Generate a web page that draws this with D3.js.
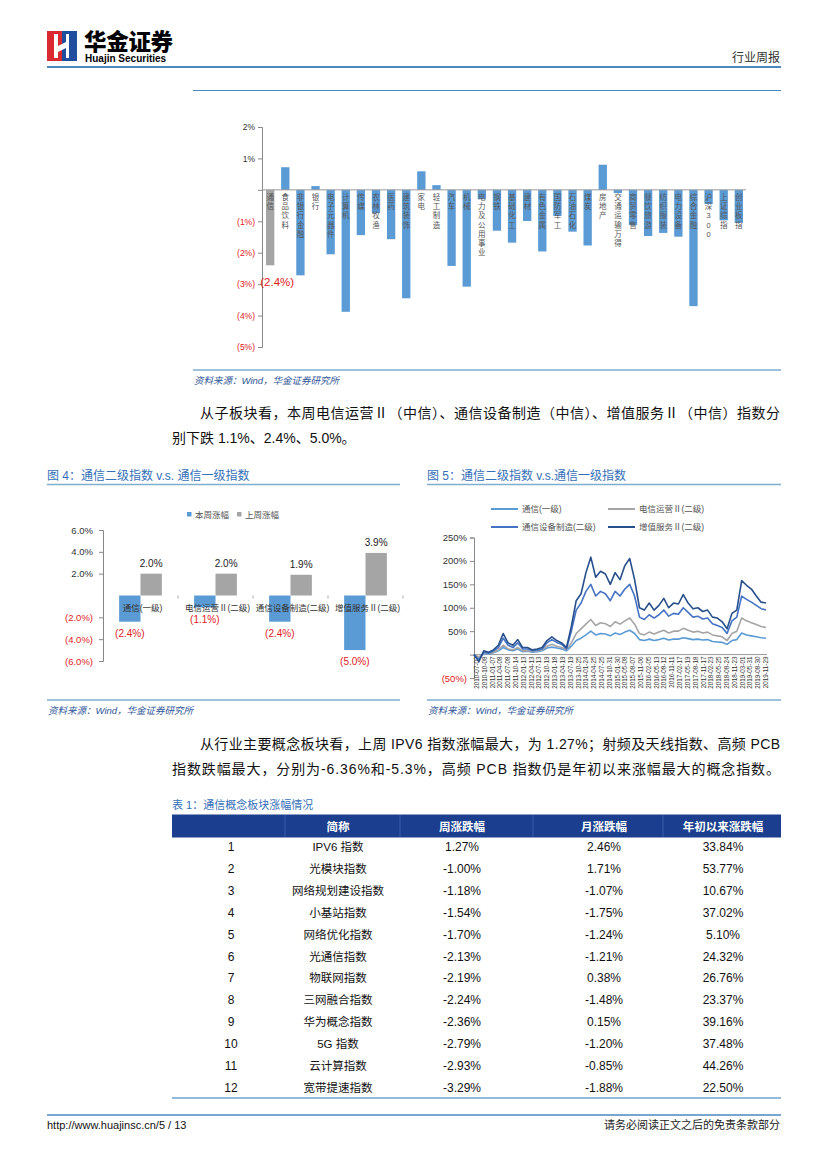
<!DOCTYPE html>
<html><head><meta charset="utf-8">
<script src="https://cdn.jsdelivr.net/npm/d3@7"></script>
<style>
html,body{margin:0;padding:0;background:#fff;}
svg{display:block;}
text{font-family:"Liberation Sans","Noto Sans CJK SC",sans-serif;}
</style></head><body>
<div id="page"></div>
<script>
// ---------- DATA ----------
// Top chart: industry weekly change (%)
const industryNames = ["通信","食品饮料","非银行金融","银行","电子元器件","计算机","传媒","农林牧渔","医药","建筑装饰","家电","轻工制造","汽车","机械","电力及公用事业","钢铁","基础化工","建材","有色金属","国防军工","石油石化","煤炭","房地产","交通运输万得","商贸零售","餐饮旅游","纺织服装","电力设备","综合金融","沪深300","上证综指","创业板指"];
const industryChange = [-2.4,0.72,-2.72,0.12,-2.05,-3.88,-1.44,-0.74,-1.57,-3.45,0.59,0.15,-2.42,-3.08,-0.3,-1.3,-1.68,-0.99,-1.96,-0.83,-1.33,-1.77,0.80,-0.1,-1.12,-1.47,-1.37,-1.49,-3.7,-0.45,-0.97,-1.05];
const topTicks = [2,1,0,-1,-2,-3,-4,-5];

// Figure 4
const fig4Cats = ["通信(一级)","电信运营Ⅱ(二级)","通信设备制造(二级)","增值服务Ⅱ(二级)"];
const fig4Series = ["本周涨幅","上周涨幅"];
const fig4ThisWeek = [-2.4,-1.1,-2.4,-5.0];
const fig4LastWeek = [2.0,2.0,1.9,3.9];
const fig4Ticks = [6,4,2,-2,-4,-6];

// Figure 5 (cumulative %, sampled along the period)
const fig5Names = ["通信(一级)","电信运营Ⅱ(二级)","通信设备制造(二级)","增值服务Ⅱ(二级)"];
const fig5Tx = [0,-8,2,1,4,8,15,10,8,12,6,7,5,6,8,14,16,14,12,8,18,30,35,42,50,42,45,44,40,46,43,48,52,45,32,30,33,30,32,35,31,33,33,36,34,32,33,31,32,28,27,26,22,30,32,46,42,40,38,36,35];
const fig5Dx = [0,-5,3,2,5,10,20,12,10,15,8,8,6,8,10,18,22,18,15,10,25,45,55,65,75,62,68,66,60,70,65,72,78,65,45,42,48,44,48,52,46,50,50,56,52,48,50,46,48,42,40,38,30,45,50,78,72,68,64,60,58];
const fig5Sb = [0,-12,5,3,8,15,35,20,15,25,12,12,8,10,12,25,32,26,22,12,50,95,110,135,150,125,135,130,115,135,125,140,150,125,80,75,85,78,85,95,82,88,86,100,90,80,82,76,78,66,62,58,45,72,80,125,118,112,105,98,95];
const fig5Zz = [0,-15,8,5,10,20,45,25,20,32,15,15,10,12,15,30,38,30,25,15,60,115,130,175,208,165,178,172,150,175,160,190,205,160,100,95,110,95,105,120,100,110,108,128,110,98,100,92,95,80,78,70,55,88,95,158,148,140,125,112,110];
const fig5Dates = ["2010-07-02","2010-10-08","2011-01-07","2011-04-08","2011-07-08","2011-10-14","2012-01-13","2012-04-13","2012-07-13","2012-10-19","2013-01-18","2013-04-19","2013-07-19","2013-10-25","2014-01-24","2014-04-25","2014-07-25","2014-10-31","2015-01-30","2015-05-08","2015-08-07","2015-11-06","2016-02-05","2016-05-13","2016-08-12","2016-11-11","2017-02-17","2017-05-19","2017-08-18","2017-11-17","2018-02-23","2018-05-25","2018-08-24","2018-11-23","2019-03-01","2019-05-31","2019-08-30","2019-11-29"];
const fig5Ticks = [250,200,150,100,50,0,-50];

// Table 1
const tblHeader = ["","简称","周涨跌幅","月涨跌幅","年初以来涨跌幅"];
const tblNames = ["IPV6 指数","光模块指数","网络规划建设指数","小基站指数","网络优化指数","光通信指数","物联网指数","三网融合指数","华为概念指数","5G 指数","云计算指数","宽带提速指数"];
const tblWeek = ["1.27%","-1.00%","-1.18%","-1.54%","-1.70%","-2.13%","-2.19%","-2.24%","-2.36%","-2.79%","-2.93%","-3.29%"];
const tblMonth = ["2.46%","1.71%","-1.07%","-1.75%","-1.24%","-1.21%","0.38%","-1.48%","0.15%","-1.20%","-0.85%","-1.88%"];
const tblYtd = ["33.84%","53.77%","10.67%","37.02%","5.10%","24.32%","26.76%","23.37%","39.16%","37.48%","44.26%","22.50%"];

// ---------- DRAW ----------
const W=827,H=1169;
const svg=d3.select("#page").append("svg").attr("width",W).attr("height",H);
svg.append("rect").attr("width",W).attr("height",H).attr("fill","#fff");
const BLUE_T="#3570B8", RED="#E0201B", BAR="#5B9BD5", GRAY="#A5A5A5";
const cjk="Noto Sans CJK SC, sans-serif";

// Header logo
const lg=svg.append("g");
lg.append("rect").attr("x",47).attr("y",31).attr("width",15).attr("height",30).attr("fill","#D92B2F");
lg.append("rect").attr("x",62).attr("y",31).attr("width",15).attr("height",30).attr("fill","#1F4E9E");
lg.append("path").attr("d","M54,34 L58,34 L58,46 L66,42 L66,34 L69,34 L69,58 L66,58 L66,48 L58,52 L58,58 L54,58 Z").attr("fill","#fff");
svg.append("text").attr("x",84).attr("y",50).attr("font-family",cjk).attr("font-weight","900").attr("font-size",22.5).attr("letter-spacing",-0.3).text("华金证券");
svg.append("text").attr("x",85).attr("y",62).attr("font-weight","bold").attr("font-size",10).attr("font-family","Liberation Sans Narrow, Liberation Sans").text("Huajin Securities");
svg.append("text").attr("x",780).attr("y",62).attr("text-anchor","end").attr("font-family",cjk).attr("font-size",12).attr("fill","#333").text("行业周报");
svg.append("line").attr("x1",47).attr("x2",781).attr("y1",67).attr("y2",67).attr("stroke","#4A8AC0").attr("stroke-width",2);
svg.append("line").attr("x1",193).attr("x2",781).attr("y1",90.5).attr("y2",90.5).attr("stroke","#4A8AC0").attr("stroke-width",1.2);

// ---------- Top chart ----------
const tx=d3.scaleBand().domain(industryNames).range([263,746]).paddingInner(0.45).paddingOuter(0.2);
const ty=d3.scaleLinear().domain([-5,2]).range([347,127]);
const tg=svg.append("g");
tg.selectAll("rect.b").data(industryChange).join("rect")
 .attr("x",(d,i)=>tx(industryNames[i])).attr("width",tx.bandwidth())
 .attr("y",d=>ty(Math.max(0,d))).attr("height",d=>Math.abs(ty(d)-ty(0)))
 .attr("fill",(d,i)=>i===0?GRAY:BAR);
const tAxis=tg.append("g").attr("transform","translate(262,0)").call(d3.axisLeft(ty).tickValues(topTicks).tickSize(4).tickFormat(d=>d===0?"":(d>0?d+"%":"("+(-d)+"%)")));
tAxis.select(".domain").attr("stroke","#888");
tAxis.selectAll(".tick line").attr("stroke","#888");
tAxis.selectAll(".tick text").attr("font-size",8.5).attr("font-family","Liberation Sans").attr("fill",d=>d<0?RED:"#333");
tg.append("line").attr("x1",262).attr("x2",746).attr("y1",ty(0)).attr("y2",ty(0)).attr("stroke","#999");
industryNames.forEach((n,i)=>{
  const cx=tx(n)+tx.bandwidth()/2;
  tg.append("g").selectAll("text").data(Array.from(n)).join("text")
   .attr("x",cx).attr("y",(ch,j)=>200+j*9.2).attr("text-anchor","middle")
   .attr("font-family",cjk).attr("font-size",7.5).attr("fill","#555").text(ch=>ch);
});
tg.append("text").attr("x",tx(industryNames[0])+tx.bandwidth()/2+7).attr("y",ty(industryChange[0])+21).attr("text-anchor","middle").attr("font-size",11.5).attr("fill",RED).text("(2.4%)");

function source(x1,x2,y){
  svg.append("line").attr("x1",x1).attr("x2",x2).attr("y1",y).attr("y2",y).attr("stroke","#7FAECF").attr("stroke-width",1.5);
  svg.append("text").attr("x",x1+1).attr("y",y+14).attr("font-size",9.5).attr("font-style","italic").attr("font-family",cjk).attr("fill","#2F5597").text("资料来源：Wind，华金证券研究所");
}
source(193,781,370);

function para(x,y,str,len){
  const t=svg.append("text").attr("x",x).attr("y",y).attr("font-family",cjk).attr("font-size",14).attr("fill","#111").text(str);
  if(len) t.attr("textLength",len).attr("lengthAdjust","spacing");
}
para(200,418,"从子板块看，本周电信运营Ⅱ（中信）、通信设备制造（中信）、增值服务Ⅱ（中信）指数分",580);
para(172,443,"别下跌 1.1%、2.4%、5.0%。");

function ftitle(x,x2,str){
  svg.append("text").attr("x",x).attr("y",480).attr("font-family",cjk).attr("font-size",12).attr("fill",BLUE_T).text(str);
  svg.append("line").attr("x1",x).attr("x2",x2).attr("y1",484.5).attr("y2",484.5).attr("stroke","#7FAECF").attr("stroke-width",1.5);
}
ftitle(47,400,"图 4：通信二级指数 v.s. 通信一级指数");
ftitle(427,781,"图 5：通信二级指数 v.s.通信一级指数");

// ---------- Figure 4 ----------
const f4=svg.append("g");
const x0=d3.scaleBand().domain(fig4Cats).range([103,403]).paddingInner(0.43).paddingOuter(0.215);
const x1=d3.scaleBand().domain(fig4Series).range([0,x0.bandwidth()]);
const y4=d3.scaleLinear().domain([-6,6]).range([661,530]);
const f4data=fig4Cats.map((c,i)=>({c,vals:[fig4ThisWeek[i],fig4LastWeek[i]]}));
const grp=f4.selectAll("g.c").data(f4data).join("g").attr("transform",d=>`translate(${x0(d.c)},0)`);
grp.selectAll("rect").data(d=>d.vals.map((v,k)=>({s:fig4Series[k],v}))).join("rect")
 .attr("x",d=>x1(d.s)).attr("width",x1.bandwidth())
 .attr("y",d=>y4(Math.max(0,d.v))).attr("height",d=>Math.abs(y4(d.v)-y4(0)))
 .attr("fill",d=>d.s===fig4Series[0]?BAR:GRAY);
grp.selectAll("text.v").data(d=>d.vals.map((v,k)=>({s:fig4Series[k],v}))).join("text")
 .attr("x",d=>x1(d.s)+x1.bandwidth()/2)
 .attr("y",d=>d.v>=0?y4(d.v)-7:y4(d.v)+15)
 .attr("text-anchor","middle").attr("font-size",10)
 .attr("fill",d=>d.v<0?RED:"#222")
 .text(d=>d.v<0?"("+(-d.v).toFixed(1)+"%)":d.v.toFixed(1)+"%");
grp.append("text").attr("x",x0.bandwidth()/2+2).attr("y",611).attr("text-anchor","middle")
 .attr("font-family",cjk).attr("font-size",8.5).attr("fill","#333").text(d=>d.c);
const a4=f4.append("g").attr("transform","translate(103,0)").call(d3.axisLeft(y4).tickValues(fig4Ticks).tickSize(4).tickFormat(d=>d>0?d.toFixed(1)+"%":"("+(-d).toFixed(1)+"%)"));
a4.select(".domain").attr("stroke","#888");
a4.selectAll(".tick line").attr("stroke","#888");
a4.selectAll(".tick text").attr("font-size",9.5).attr("fill",d=>d<0?RED:"#333").attr("dx",-3);
f4.selectAll("line.ct").data(fig4Cats).join("line")
 .attr("x1",d=>x0(d)+x0.step()*(1-0.215)).attr("x2",d=>x0(d)+x0.step()*(1-0.215))
 .attr("y1",y4(0)).attr("y2",y4(0)+3).attr("stroke","#aaa");
const lg4=f4.append("g");
fig4Series.forEach((s,k)=>{
  const lx=187+k*50;
  lg4.append("rect").attr("x",lx).attr("y",512).attr("width",4.5).attr("height",4.5).attr("fill",k===0?BAR:GRAY);
  lg4.append("text").attr("x",lx+8).attr("y",517.5).attr("font-family",cjk).attr("font-size",8.5).attr("fill","#555").text(s);
});

// ---------- Figure 5 ----------
const f5=svg.append("g");
const n5=fig5Zz.length;
const x5=d3.scaleLinear().domain([0,n5-1]).range([474,766]);
const y5=d3.scaleLinear().domain([-50,250]).range([678,537.5]);
const xd=d3.scalePoint().domain(fig5Dates).range([477,766]);
const a5=f5.append("g").attr("transform","translate(474,0)").call(d3.axisLeft(y5).tickValues(fig5Ticks).tickSize(4).tickFormat(d=>d===0?"":d>0?d+"%":"("+(-d)+"%)"));
a5.select(".domain").attr("stroke","#888");
a5.selectAll(".tick line").attr("stroke","#888");
a5.selectAll(".tick text").attr("font-size",9.5).attr("fill",d=>d<0?RED:"#333");
f5.append("line").attr("x1",474).attr("x2",767).attr("y1",y5(0)).attr("y2",y5(0)).attr("stroke","#999");
f5.selectAll("text.d").data(fig5Dates).join("text")
 .attr("transform",d=>`translate(${xd(d)+2},${y5(0)+2}) rotate(-90)`)
 .attr("text-anchor","end").attr("font-size",6.3).attr("fill","#333").text(d=>d);
const series5=[{n:fig5Names[0],v:fig5Tx,c:"#5B9BD5"},{n:fig5Names[1],v:fig5Dx,c:"#A5A5A5"},{n:fig5Names[2],v:fig5Sb,c:"#4472C4"},{n:fig5Names[3],v:fig5Zz,c:"#264F8C"}];
const line5=d3.line().x((d,i)=>x5(i)).y(d=>y5(d));
f5.selectAll("path.s").data(series5).join("path").attr("fill","none").attr("stroke",d=>d.c).attr("stroke-width",1.6).attr("stroke-linejoin","round").attr("d",d=>line5(d.v));
const legPos=[[491,509],[608,509],[491,527],[608,527]];
series5.forEach((s,k)=>{
  const [lx,ly]=legPos[k];
  f5.append("line").attr("x1",lx).attr("x2",lx+27).attr("y1",ly).attr("y2",ly).attr("stroke",s.c).attr("stroke-width",2);
  f5.append("text").attr("x",lx+31).attr("y",ly+3).attr("font-family",cjk).attr("font-size",8.5).attr("fill","#555").text(s.n);
});

source(47,400,700);
source(427,781,700);

para(200,749,"从行业主要概念板块看，上周 IPV6 指数涨幅最大，为 1.27%；射频及天线指数、高频 PCB",580);
para(172,774,"指数跌幅最大，分别为-6.36%和-5.3%，高频 PCB 指数仍是年初以来涨幅最大的概念指数。",608);

// ---------- Table ----------
svg.append("text").attr("x",172).attr("y",809).attr("font-family",cjk).attr("font-size",11).attr("fill",BLUE_T).text("表 1：通信概念板块涨幅情况");
const colX=[231,338,462,604,723];
const colB=[172,285,400,533,663,781];
svg.append("rect").attr("x",172).attr("y",814.5).attr("width",609).attr("height",23).attr("fill","#1B3F8E");
colB.slice(1,5).forEach(b=>svg.append("line").attr("x1",b).attr("x2",b).attr("y1",815).attr("y2",837).attr("stroke","#3B5FA8"));
svg.selectAll("text.h").data(tblHeader).join("text").attr("x",(d,i)=>colX[i]).attr("y",830.5).attr("text-anchor","middle")
 .attr("font-family",cjk).attr("font-weight","bold").attr("font-size",11.5).attr("fill","#fff").text(d=>d);
const rows=tblNames.map((n,i)=>[String(i+1),n,tblWeek[i],tblMonth[i],tblYtd[i]]);
rows.forEach((r,i)=>{
  const y=851+i*21.9;
  r.forEach((cell,j)=>{
    svg.append("text").attr("x",colX[j]).attr("y",y).attr("text-anchor","middle")
     .attr("font-family",j===1?cjk:"Liberation Sans").attr("font-size",j===1?11.5:12).attr("fill","#111").text(cell);
  });
});
svg.append("line").attr("x1",172).attr("x2",781).attr("y1",1098).attr("y2",1098).attr("stroke","#6FA3CC").attr("stroke-width",1.5);

// Footer
svg.append("line").attr("x1",47).attr("x2",781).attr("y1",1115).attr("y2",1115).attr("stroke","#4A8AC0").attr("stroke-width",1.5);
svg.append("text").attr("x",47).attr("y",1129).attr("font-size",11).attr("fill","#111").text("http://www.huajinsc.cn/5 / 13");
svg.append("text").attr("x",780).attr("y",1129).attr("text-anchor","end").attr("font-family",cjk).attr("font-size",11).attr("fill","#222").text("请务必阅读正文之后的免责条款部分");
</script>
</body></html>
